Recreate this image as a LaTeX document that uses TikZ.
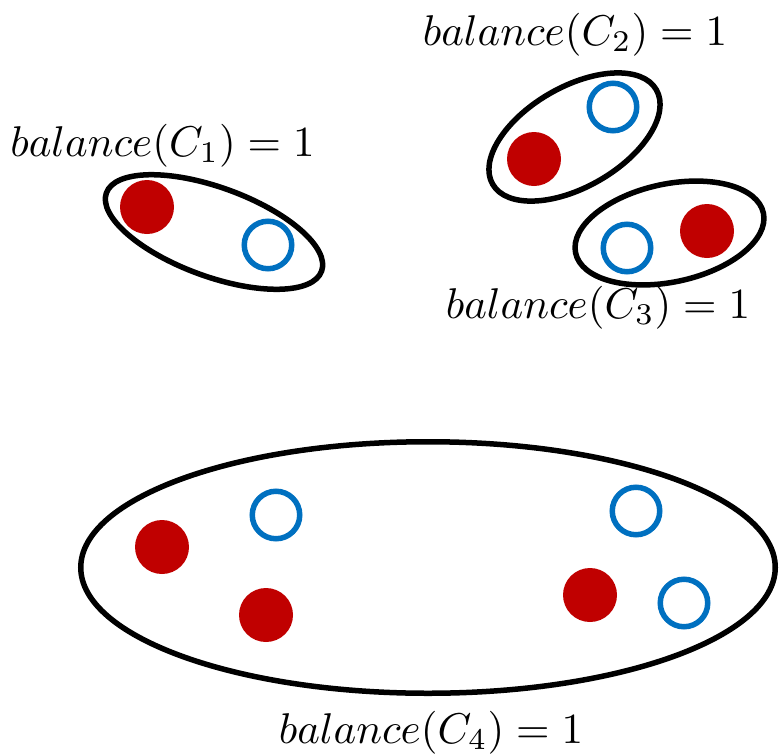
\documentclass[tikz,border=0pt]{standalone}
\usetikzlibrary{shapes.geometric}
\definecolor{dotred}{HTML}{C00000}
\definecolor{dotblue}{HTML}{0070C0}
\tikzset{
  cluster/.style={ellipse, draw=black, line width=5.5pt, inner sep=0pt},
  reddot/.style={circle, fill=dotred, draw=none, minimum size=54pt, inner sep=0pt},
  bluedot/.style={circle, draw=dotblue, line width=5.5pt, minimum size=47.5pt, inner sep=0pt},
  lab/.style={anchor=base, inner sep=0pt, scale=4.3, transform shape}
}
\begin{document}
\begin{tikzpicture}[x=1pt,y=-1pt]
\useasboundingbox (0,0) rectangle (779,755);
% cluster C1
\node[cluster, minimum width=229pt, minimum height=89pt, rotate=-20] (c1) at (214,232) {};
\node[reddot] (r1) at (147,207) {};
\node[bluedot] (b1) at (268,245) {};
\node[lab] (l1) at (162.5,156) {$balance(C_1)=1$};
% cluster C2
\node[cluster, minimum width=189pt, minimum height=100pt, rotate=30] (c2) at (574.5,137) {};
\node[reddot] (r2) at (534,159) {};
\node[bluedot] (b2) at (613,107) {};
\node[lab] (l2) at (575,45) {$balance(C_2)=1$};
% cluster C3
\node[cluster, minimum width=192pt, minimum height=98pt, rotate=12] (c3) at (669.5,233) {};
\node[bluedot] (b3) at (627,248) {};
\node[reddot] (r3) at (707,231) {};
\node[lab] (l3) at (598,318) {$balance(C_3)=1$};
% cluster C4
\node[cluster, minimum width=694.5pt, minimum height=251.5pt] (c4) at (428,567.5) {};
\node[reddot] (r4a) at (162,547) {};
\node[reddot] (r4b) at (266,615) {};
\node[reddot] (r4c) at (590,595) {};
\node[bluedot] (b4a) at (276,515) {};
\node[bluedot] (b4b) at (636,511) {};
\node[bluedot] (b4c) at (684,603) {};
\node[lab] (l4) at (431,743) {$balance(C_4)=1$};
\end{tikzpicture}
\end{document}
